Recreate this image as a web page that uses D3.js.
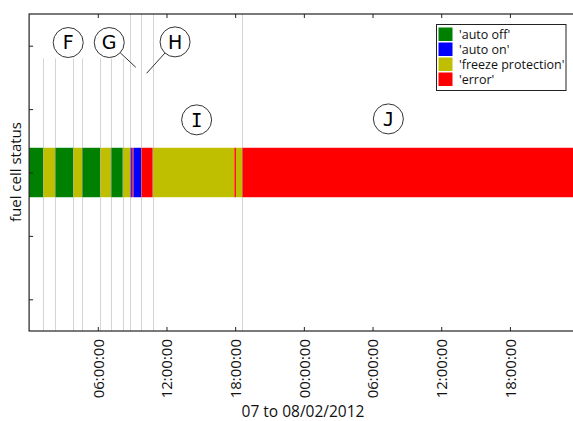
<!DOCTYPE html>
<html><head><meta charset="utf-8">
<script src="https://cdn.jsdelivr.net/npm/d3@7"></script>
<style>html,body{margin:0;padding:0;background:#fff;}svg{display:block;}</style>
</head><body>
<script>
// ---- data ----
const states = ["'auto off'", "'auto on'", "'freeze protection'", "'error'"];
const stateColors = ["#008000", "#0000ff", "#bfbf00", "#ff0000"];
const segStart = ["2012-02-07 00:00","2012-02-07 01:14","2012-02-07 02:16","2012-02-07 03:52","2012-02-07 04:37",
  "2012-02-07 06:13","2012-02-07 07:08","2012-02-07 08:11","2012-02-07 08:49","2012-02-07 08:55","2012-02-07 09:02",
  "2012-02-07 09:08","2012-02-07 09:47","2012-02-07 10:48","2012-02-07 17:56","2012-02-07 18:04","2012-02-07 18:36"];
const segEnd = ["2012-02-07 01:14","2012-02-07 02:16","2012-02-07 03:52","2012-02-07 04:37","2012-02-07 06:13",
  "2012-02-07 07:08","2012-02-07 08:11","2012-02-07 08:49","2012-02-07 08:55","2012-02-07 09:02","2012-02-07 09:08",
  "2012-02-07 09:47","2012-02-07 10:48","2012-02-07 17:56","2012-02-07 18:04","2012-02-07 18:36","2012-02-09 00:00"];
const segState = [0,2,0,2,0,2,0,2,3,1,3,1,3,2,3,2,3];
const statusLevel = 2;
const shortMarks = ["2012-02-07 01:14","2012-02-07 02:16","2012-02-07 03:52","2012-02-07 04:37","2012-02-07 06:13","2012-02-07 07:08","2012-02-07 08:11"];
const tallMarks = ["2012-02-07 08:49","2012-02-07 09:47","2012-02-07 10:48","2012-02-07 18:36"];
const xTicks = ["2012-02-07 06:00","2012-02-07 12:00","2012-02-07 18:00","2012-02-08 00:00","2012-02-08 06:00","2012-02-08 12:00","2012-02-08 18:00"];
const yTicks = [0,1,2,3,4];
const xDomain = ["2012-02-07 00:00","2012-02-09 00:00"];
const labels = ["F","G","H","I","J"];
const labelTime = ["2012-02-07 03:25","2012-02-07 07:00","2012-02-07 12:45","2012-02-07 14:38","2012-02-08 07:23"];
const labelLevel = [4.05,4.05,4.06,2.83,2.845];
const pointerTime = [null,"2012-02-07 09:19","2012-02-07 10:16",null,null];
const pointerLevel = [null,3.66,3.565,null,null];

// ---- chart ----
const W = 573, H = 421;
const L = 29.1, R = 578.6, T = 14, B = 331;
const parse = d3.timeParse("%Y-%m-%d %H:%M");
const x = d3.scaleTime().domain(xDomain.map(parse)).range([L, R]);
const y = d3.scaleLinear().domain([-0.5, 4.5]).range([B, T]);
const svg = d3.select("body").append("svg").attr("width", W).attr("height", H);
const font = "'Open Sans', sans-serif";

// bar segments
svg.append("g").selectAll("rect").data(segState).join("rect")
  .attr("x", (d,i) => x(parse(segStart[i])))
  .attr("width", (d,i) => x(parse(segEnd[i])) - x(parse(segStart[i])))
  .attr("y", y(statusLevel + 0.39))
  .attr("height", y(statusLevel - 0.39) - y(statusLevel + 0.39))
  .attr("fill", d => stateColors[d]);

// vertical marker lines
const mk = svg.append("g").attr("stroke", "#aaa").attr("stroke-opacity", 0.5).attr("stroke-width", 1);
mk.selectAll("line.s").data(shortMarks).join("line").attr("class","s")
  .attr("x1", d => Math.round(x(parse(d))) + 0.5).attr("x2", d => Math.round(x(parse(d))) + 0.5)
  .attr("y1", y(3.8)).attr("y2", y(-0.5));
mk.selectAll("line.t").data(tallMarks).join("line").attr("class","t")
  .attr("x1", d => Math.round(x(parse(d))) + 0.5).attr("x2", d => Math.round(x(parse(d))) + 0.5)
  .attr("y1", y(4.5)).attr("y2", y(-0.5));

// axes (inward ticks)
const xb = svg.append("g").attr("transform", `translate(0,${B})`)
  .call(d3.axisBottom(x).tickValues(xTicks.map(parse)).tickSize(-4).tickPadding(8).tickFormat(d3.timeFormat("%H:%M:%S")));
const xt = svg.append("g").attr("transform", `translate(0,${T})`)
  .call(d3.axisTop(x).tickValues(xTicks.map(parse)).tickSize(-4).tickFormat(""));
const yl = svg.append("g").attr("transform", `translate(${L},0)`)
  .call(d3.axisLeft(y).tickValues(yTicks).tickSize(-4).tickFormat(""));
const yr = svg.append("g").attr("transform", `translate(${R},0)`)
  .call(d3.axisRight(y).tickValues(yTicks).tickSize(-4).tickFormat(""));
[xb, xt, yl, yr].forEach(g => {
  g.select(".domain").remove();
  g.selectAll(".tick line").attr("stroke", "#222");
});
xb.selectAll(".tick text")
  .attr("transform", "rotate(-90)")
  .attr("text-anchor", "end")
  .attr("x", -8).attr("y", 0).attr("dy", "0.36em")
  .style("font-family", font).style("font-size", "15px").attr("fill", "#111");

// frame
svg.append("rect").attr("x", L).attr("y", T).attr("width", R - L).attr("height", B - T)
  .attr("fill", "none").attr("stroke", "#222").attr("stroke-width", 1.2);

// axis labels
svg.append("text").attr("x", 303).attr("y", 417).attr("text-anchor", "middle")
  .style("font-family", font).style("font-size", "15.5px").attr("fill", "#111").text("07 to 08/02/2012");
svg.append("text").attr("transform", `translate(21,172) rotate(-90)`).attr("text-anchor", "middle")
  .style("font-family", font).style("font-size", "15px").attr("fill", "#111").text("fuel cell status");

// annotations
const ann = svg.append("g");
labels.forEach((lab, i) => {
  const cx = x(parse(labelTime[i])), cy = y(labelLevel[i]), r = 15;
  if (pointerTime[i]) {
    const px = x(parse(pointerTime[i])), py = y(pointerLevel[i]);
    const dx = px - cx, dy = py - cy, dd = Math.hypot(dx, dy);
    ann.append("line").attr("x1", cx + dx / dd * r).attr("y1", cy + dy / dd * r)
      .attr("x2", px).attr("y2", py).attr("stroke", "#333").attr("stroke-width", 1);
  }
  ann.append("circle").attr("cx", cx).attr("cy", cy).attr("r", r)
    .attr("fill", "#fff").attr("stroke", "#333").attr("stroke-width", 1);
  ann.append("text").attr("x", cx).attr("y", cy).attr("dy", "0.36em").attr("text-anchor", "middle")
    .style("font-family", i >= 3 ? "'DejaVu Sans Mono', monospace" : "'DejaVu Sans', sans-serif")
    .style("font-size", "19px").attr("fill", "#000").text(lab);
});

// legend
const lg = svg.append("g");
lg.append("rect").attr("x", 436.5).attr("y", 24.5).attr("width", 129.5).attr("height", 66)
  .attr("fill", "#fff").attr("stroke", "#222").attr("stroke-width", 1);
states.forEach((s, i) => {
  lg.append("rect").attr("x", 438.5).attr("y", 27.5 + i * 15).attr("width", 14).attr("height", 13.5)
    .attr("fill", stateColors[i]);
  lg.append("text").attr("x", 459).attr("y", 34.3 + i * 15).attr("dy", "0.36em")
    .style("font-family", font).style("font-size", "12.5px").attr("fill", "#111").text(s);
});
</script>
</body></html>
